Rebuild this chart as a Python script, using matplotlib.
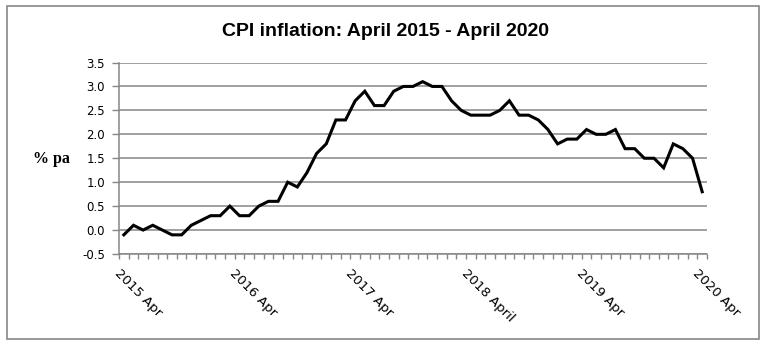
import numpy as np
import matplotlib
matplotlib.use('Agg')
from matplotlib import pyplot as plt
from matplotlib.patches import Rectangle
from matplotlib import transforms

# monthly CPI inflation, % pa, April 2015 .. April 2020
cpi = [-0.1, 0.1, 0.0, 0.1, 0.0, -0.1, -0.1, 0.1, 0.2,
       0.3, 0.3, 0.5, 0.3, 0.3, 0.5, 0.6, 0.6, 1.0, 0.9, 1.2, 1.6,
       1.8, 2.3, 2.3, 2.7, 2.9, 2.6, 2.6, 2.9, 3.0, 3.0, 3.1, 3.0,
       3.0, 2.7, 2.5, 2.4, 2.4, 2.4, 2.5, 2.7, 2.4, 2.4, 2.3, 2.1,
       1.8, 1.9, 1.9, 2.1, 2.0, 2.0, 2.1, 1.7, 1.7, 1.5, 1.5, 1.3,
       1.8, 1.7, 1.5, 0.8]
year_labels = ['2015 Apr', '2016 Apr', '2017 Apr', '2018 April', '2019 Apr', '2020 Apr']
y_ticks = [-0.5, 0.0, 0.5, 1.0, 1.5, 2.0, 2.5, 3.0, 3.5]

grey = '#868686'
tick_font = 'DejaVu Sans'

fig = plt.figure(figsize=(7.73, 3.51), dpi=100)
ax = fig.add_axes([119 / 773, 1 - 254 / 351, (707 - 119) / 773, (254 - 62.5) / 351])

x = np.arange(len(cpi))
ax.plot(x, cpi, color='black', lw=2.2, solid_joinstyle='miter', zorder=3)

ax.set_xlim(-0.5, len(cpi) - 0.5)
ax.set_ylim(-0.5, 3.5)
ax.set_yticks(y_ticks)
ax.set_yticklabels(['%.1f' % v for v in y_ticks], fontfamily=tick_font, fontsize=8.5)
ax.yaxis.grid(True, color=grey, lw=1.1)
ax.set_axisbelow(True)

ax.set_xticks(np.arange(len(cpi) + 1) - 0.5)
ax.set_xticklabels([])
ax.tick_params(axis='x', length=3.5, width=1, color=grey)
ax.tick_params(axis='y', length=5, width=1, color=grey, pad=5)

for s in ['top', 'right']:
    ax.spines[s].set_visible(False)
for s in ['left', 'bottom']:
    ax.spines[s].set_color(grey)
    ax.spines[s].set_linewidth(1.1)

trans = transforms.blended_transform_factory(ax.transData, ax.transAxes)
for i, lab in enumerate(year_labels):
    ax.text(i * 12 - 0.8, -0.09, lab, transform=trans, rotation=-45,
            rotation_mode='anchor', ha='left', va='center',
            fontfamily=tick_font, fontsize=9.5)

fig.text(386 / 773, 1 - 32 / 351, 'CPI inflation: April 2015 - April 2020',
         ha='center', va='center', fontfamily='Liberation Sans',
         fontweight='bold', fontsize=14)
fig.text(51 / 773, 1 - 159 / 351, '% pa', ha='center', va='center',
         fontfamily='Liberation Serif', fontweight='bold', fontsize=11.5)

fig.patches.append(Rectangle((7 / 773, 1 - 339 / 351), 752 / 773, 333 / 351,
                             transform=fig.transFigure, fill=False,
                             edgecolor=grey, lw=1.2))

fig.savefig('out.png', dpi=100)
